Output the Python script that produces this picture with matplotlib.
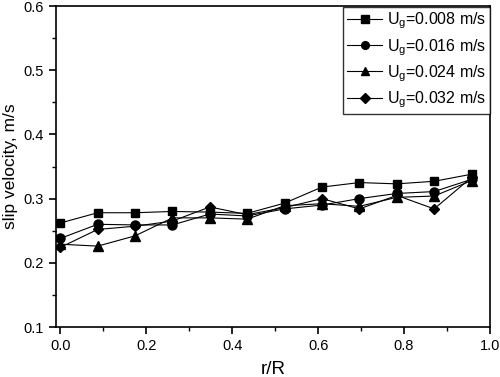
import numpy as np
from matplotlib import pyplot as plt
from matplotlib.ticker import MultipleLocator

plt.rcParams['font.family'] = ['Liberation Sans', 'DejaVu Sans']
plt.rcParams['mathtext.fontset'] = 'custom'
plt.rcParams['mathtext.rm'] = 'Liberation Sans'

# radial position r/R
r = [0.0, 0.087, 0.174, 0.261, 0.348, 0.435, 0.522, 0.609, 0.696, 0.783, 0.870, 0.957]

# slip velocity (m/s) per superficial gas velocity
v_008 = [0.262, 0.278, 0.278, 0.280, 0.279, 0.277, 0.293, 0.318, 0.325, 0.323, 0.327, 0.338]
v_016 = [0.238, 0.260, 0.259, 0.259, 0.276, 0.273, 0.284, 0.290, 0.300, 0.308, 0.311, 0.330]
v_024 = [0.229, 0.226, 0.242, 0.270, 0.270, 0.268, 0.289, 0.292, 0.288, 0.302, 0.304, 0.328]
v_032 = [0.224, 0.252, 0.257, 0.265, 0.287, 0.275, 0.286, 0.300, 0.284, 0.305, 0.284, 0.333]

labels = ['0.008', '0.016', '0.024', '0.032']
series = [v_008, v_016, v_024, v_032]
markers = ['s', 'o', '^', 'D']
msizes = [6, 6.5, 7, 5.5]

fig = plt.figure(figsize=(5.0, 3.77), dpi=100)
ax = fig.add_axes([0.112, 0.1326, 0.868, 0.8514])

for ys, lab, m, ms in zip(series, labels, markers, msizes):
	ax.plot(r, ys, color='black', lw=0.8, marker=m, ms=ms,
		label=r'U$_\mathregular{g}$=' + lab + ' m/s')

ax.set_xlim(-0.01, 1.0)
ax.set_ylim(0.1, 0.6)
ax.xaxis.set_major_locator(MultipleLocator(0.2))
ax.xaxis.set_minor_locator(MultipleLocator(0.1))
ax.yaxis.set_major_locator(MultipleLocator(0.1))
ax.yaxis.set_minor_locator(MultipleLocator(0.05))
ax.tick_params(which='both', direction='out', top=False, right=False, labelsize=10.5)
ax.tick_params(which='major', length=5, width=1.2)
ax.tick_params(which='minor', length=3, width=1.0)
for sp in ax.spines.values():
	sp.set_linewidth(1.2)

ax.set_xlabel('r/R', fontsize=13.5, labelpad=6)
ax.set_ylabel('slip velocity, m/s', fontsize=12.5)

leg = ax.legend(loc='upper left', bbox_to_anchor=(0.686, 0.982), bbox_transform=fig.transFigure,
	fontsize=11.5, frameon=True, fancybox=False, edgecolor='black', markerscale=0.85,
	handlelength=2.2, handletextpad=0.3, labelspacing=0.35, borderpad=0.25, borderaxespad=0)
leg.get_frame().set_linewidth(1.0)

fig.savefig('out.png', dpi=100)
